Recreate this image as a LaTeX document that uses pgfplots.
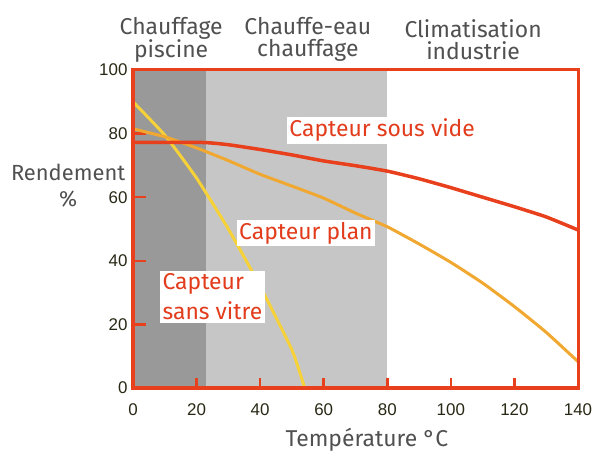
\documentclass[border=0pt]{standalone}
\usepackage{pgfplots}
\pgfplotsset{compat=1.18}
\usepackage{fontspec}
\setmainfont{Fira Sans}
\newfontfamily\tickfont{Liberation Sans}
\definecolor{fr}{RGB}{232,64,28}
\definecolor{txtred}{RGB}{226,60,28}
\definecolor{cor}{RGB}{240,168,48}
\definecolor{cye}{RGB}{246,210,56}
\definecolor{dg}{RGB}{153,153,153}
\definecolor{lg}{RGB}{198,198,198}
\definecolor{tg}{RGB}{80,80,80}
\definecolor{tcol}{RGB}{40,40,20}
\begin{document}
\begin{tikzpicture}
\begin{axis}[name=ax, scale only axis, width=445bp, height=318bp,
  set layers,
  xmin=0, xmax=140, ymin=0, ymax=100,
  axis line style={draw=fr, line width=3bp},
  xtick={0,20,...,140}, ytick={0,20,...,100},
  tick style={draw=fr, line width=2.5bp},
  major tick length=9bp, tick align=inside,
  xtick pos=left, ytick pos=left,
  /pgf/number format/assume math mode=true,
  xticklabel style={font=\tickfont\fontsize{17}{17}\selectfont, text=tcol, yshift=-12bp},
  yticklabel style={font=\tickfont\fontsize{17}{17}\selectfont, text=tcol, xshift=-2bp},
  clip=false]
\addplot[fill=dg, draw=none, on layer=axis background] coordinates {(0,100) (23,100)} \closedcycle;
\addplot[fill=lg, draw=none, on layer=axis background] coordinates {(23,100) (80,100)} \closedcycle;
% tick marks (bottom and left)
\addplot[ycomb, draw=fr, line width=2.5bp, mark=none] coordinates {(20,3)(40,3)(60,3)(80,3)(100,3)(120,3)};
\addplot[xcomb, draw=fr, line width=2.5bp, mark=none] coordinates {(4.2,20)(4.2,40)(4.2,60)(4.2,80)};
\addplot[cye, line width=3bp, smooth, tension=0.3] coordinates {(0,90)(10,79.5)(20,66)(30,50)(40,32)(50,12)(54,0)};
\addplot[cor, line width=3bp, smooth, tension=0.3] coordinates {(0,81.5)(10,79)(20,75.5)(30,71.5)(40,67.2)(50,63.5)(60,59.7)(70,55)(80,50.7)(90,45.3)(100,39.5)(110,33)(120,25.6)(130,17.5)(140,8.3)};
\addplot[fr, line width=3.5bp, smooth, tension=0.3] coordinates {(0,77.2)(22,77.2)(30,76.5)(40,75)(50,73.3)(60,71.4)(70,69.9)(80,68.2)(90,65.8)(100,63)(110,60)(120,57)(130,53.8)(140,49.7)};
\addplot[fr, line width=3bp, no markers] coordinates {(0,0)(140,0)(140,100)(0,100)} -- cycle;
\node[fill=white, text=txtred, font=\fontsize{23}{26}\selectfont, inner sep=2bp] at (axis cs:78.4,81) {Capteur sous vide};
\node[fill=white, text=txtred, font=\fontsize{23}{26}\selectfont, inner sep=2bp] at (axis cs:54.4,48.7) {Capteur plan};
\node[fill=white, text=txtred, font=\fontsize{23}{30}\selectfont, inner sep=3bp, align=left] at (axis cs:25,28.7) {Capteur\\sans vitre};
\node[text=tg, font=\fontsize{23}{22}\selectfont, align=center] at (axis cs:12,109.5) {Chauffage\\piscine};
\node[text=tg, font=\fontsize{23}{22}\selectfont, align=center] at (axis cs:55,109.5) {Chauffe-eau\\chauffage};
\node[text=tg, font=\fontsize{23}{22}\selectfont, align=center] at (axis cs:107,109.5) {Climatisation\\industrie};
\node[text=tg, font=\fontsize{22}{26}\selectfont, align=center] at (axis cs:-20.4,63.5) {Rendement\\\%};
\node[text=tg, font=\fontsize{23}{24}\selectfont] at (axis cs:73.6,-16.4) {Température °C};
\end{axis}
\path[use as bounding box] (ax.south west) ++(-133bp,-68bp) rectangle ++(616bp,456bp);
\end{tikzpicture}
\end{document}
